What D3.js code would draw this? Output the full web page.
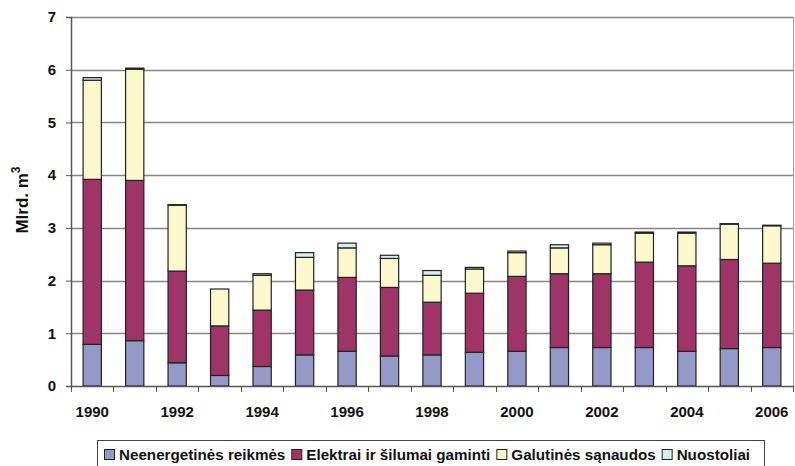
<!DOCTYPE html>
<html>
<head>
<meta charset="utf-8">
<script src="https://cdn.jsdelivr.net/npm/d3@7"></script>
<style>
  html, body { margin: 0; padding: 0; background: #fff; }
  svg { display: block; font-family: "Liberation Sans", Arial, sans-serif; }
</style>
</head>
<body>
<svg id="chart" width="795" height="466"></svg>
<script>
// Gamtinių dujų suvartojimas pagal paskirtį, mlrd. m3
const years = [1990, 1991, 1992, 1993, 1994, 1995, 1996, 1997, 1998, 1999,
               2000, 2001, 2002, 2003, 2004, 2005, 2006];
const neenergetines = [0.79, 0.86, 0.44, 0.20, 0.37, 0.59, 0.66, 0.57, 0.59, 0.64,
                       0.66, 0.73, 0.73, 0.73, 0.66, 0.71, 0.73];
const elektrai      = [3.13, 3.04, 1.74, 0.94, 1.07, 1.23, 1.40, 1.30, 1.00, 1.12,
                       1.42, 1.40, 1.40, 1.62, 1.62, 1.69, 1.60];
const galutines     = [1.88, 2.11, 1.25, 0.70, 0.66, 0.62, 0.56, 0.55, 0.51, 0.46,
                       0.45, 0.49, 0.55, 0.55, 0.62, 0.67, 0.71];
const nuostoliai    = [0.05, 0.02, 0.01, 0.00, 0.03, 0.09, 0.09, 0.06, 0.09, 0.03,
                       0.03, 0.06, 0.03, 0.02, 0.02, 0.01, 0.01];
const seriesNames = ["Neenergetinės reikmės", "Elektrai ir šilumai gaminti",
                     "Galutinės sąnaudos", "Nuostoliai"];
const seriesColors = ["#9499c8", "#9e3566", "#fbf8cd", "#d4eef1"];
const yTicks = [0, 1, 2, 3, 4, 5, 6, 7];
const xLabels = [1990, 1992, 1994, 1996, 1998, 2000, 2002, 2004, 2006];

const svg = d3.select("#chart");
const plotL = 71, plotR = 793, plotT = 17, plotB = 386;

const x = d3.scaleBand().domain(years).range([plotL, plotR]).paddingInner(0.57).paddingOuter(0.285);
const xSlot = d3.scaleBand().domain(years).range([plotL, plotR]);
const y = d3.scaleLinear().domain([0, 7]).range([plotB, plotT]);

// horizontal gridlines
svg.append("g").selectAll("line").data(yTicks.filter(d => d > 0)).join("line")
  .attr("x1", plotL).attr("x2", plotR)
  .attr("y1", d => Math.round(y(d)) + 0.5).attr("y2", d => Math.round(y(d)) + 0.5)
  .attr("stroke", "#858585").attr("stroke-width", 1.3);

// right border of the plot area
svg.append("line").attr("x1", plotR + 0.5).attr("x2", plotR + 0.5)
  .attr("y1", y(7)).attr("y2", plotB).attr("stroke", "#a0a0a0").attr("stroke-width", 1);

// stacked bars
const rows = years.map((yr, i) => ({
  year: yr, s0: neenergetines[i], s1: elektrai[i], s2: galutines[i], s3: nuostoliai[i]
}));
const layers = d3.stack().keys(["s0", "s1", "s2", "s3"])(rows);

svg.append("g").selectAll("g").data(layers).join("g")
  .attr("fill", (d, i) => seriesColors[i])
  .selectAll("rect").data(d => d).join("rect")
  .attr("x", d => x(d.data.year))
  .attr("width", x.bandwidth())
  .attr("y", d => y(d[1]))
  .attr("height", d => Math.max(0, y(d[0]) - y(d[1])))
  .attr("stroke", "#222")
  .attr("stroke-width", 1.2);

// y axis
const yAxis = d3.axisLeft(y).tickValues(yTicks).tickSize(5).tickFormat(d3.format("d"));
const gy = svg.append("g").attr("transform", `translate(${plotL},0)`).call(yAxis);
gy.select(".domain").attr("stroke", "#555").attr("stroke-width", 1.5);
gy.selectAll(".tick line").attr("stroke", "#555");
gy.selectAll(".tick text").attr("font-size", 15).attr("font-weight", "bold")
  .attr("fill", "#111").attr("x", -15);

// x axis with tick marks between categories
const boundaries = years.map(d => xSlot(d)).concat([plotR]);
const gx = svg.append("g");
gx.append("line").attr("x1", plotL).attr("x2", plotR).attr("y1", plotB + 0.5).attr("y2", plotB + 0.5)
  .attr("stroke", "#555").attr("stroke-width", 1.5);
gx.selectAll("line.tk").data(boundaries).join("line").attr("class", "tk")
  .attr("x1", d => Math.round(d) + 0.5).attr("x2", d => Math.round(d) + 0.5)
  .attr("y1", plotB).attr("y2", plotB + 6).attr("stroke", "#555");
gx.selectAll("text").data(xLabels).join("text")
  .attr("x", d => xSlot(d) + xSlot.bandwidth() / 2)
  .attr("y", 417)
  .attr("text-anchor", "middle")
  .attr("font-size", 15).attr("font-weight", "bold").attr("fill", "#111")
  .text(d => d);

// y axis title
const yt = svg.append("text")
  .attr("transform", "translate(28,200) rotate(-90)")
  .attr("text-anchor", "middle")
  .attr("font-size", 17).attr("font-weight", "bold").attr("fill", "#111");
yt.append("tspan").text("Mlrd. m");
yt.append("tspan").attr("font-size", 12).attr("dy", -8).text("3");

// legend
const lg = svg.append("g");
lg.append("rect").attr("x", 97.5).attr("y", 440.5).attr("width", 667).attr("height", 30)
  .attr("fill", "#fff").attr("stroke", "#444");
let cx = 104;
seriesNames.forEach((name, i) => {
  const g = lg.append("g").attr("transform", `translate(${cx},448)`);
  g.append("rect").attr("x", 0.5).attr("y", 1.5).attr("width", 10).attr("height", 10)
    .attr("fill", seriesColors[i]).attr("stroke", "#222");
  const t = g.append("text").attr("x", 15).attr("y", 12).attr("font-size", 15.2)
    .attr("font-weight", "bold").attr("fill", "#111").text(name);
  cx += 15 + t.node().getComputedTextLength() + 6;
});
</script>
</body>
</html>
